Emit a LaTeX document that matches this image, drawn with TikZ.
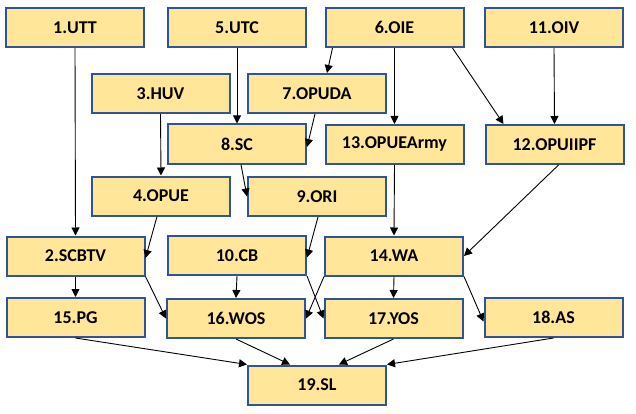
\documentclass[tikz,border=0pt]{standalone}
\usepackage{fontspec}
\setmainfont{Carlito}
\usepackage{tikz}
\usetikzlibrary{arrows.meta}
\definecolor{boxfill}{HTML}{FFE699}
\definecolor{boxline}{HTML}{2F5597}

\begin{document}
\begin{tikzpicture}[> = {Triangle[length=8pt,width=8pt]}, x = 1pt, y = -1pt,
    box/.style = {draw = boxline, fill = boxfill, line width = 2pt, minimum width = 138pt,
      minimum height = 39pt, inner sep = 0pt, font = \bfseries\fontsize{18}{20}\selectfont},
    link/.style = {->, line width = 0.9pt}]
  \useasboundingbox (0,0) rectangle (636,414);
  \node[box] (utt)     at (75,27.5)    {1.UTT};
  \node[box] (utc)     at (237,27.5)   {5.UTC};
  \node[box] (oie)     at (394.5,27.5) {6.OIE};
  \node[box] (oiv)     at (554,27.5)   {11.OIV};
  \node[box] (huv)     at (160.5,93.5) {3.HUV};
  \node[box] (opuda)   at (317,93.5)   {7.OPUDA};
  \node[box] (sc)      at (237,144)    {8.SC};
  \node[box] (opuea)   at (394.5,144.5){13.OPUEArmy};
  \node[box] (opuiipf) at (554.5,144.5){12.OPUIIPF};
  \node[box] (opue)    at (161,196)    {4.OPUE};
  \node[box] (ori)     at (317,196.5)  {9.ORI};
  \node[box] (scbtv)   at (75.5,256)   {2.SCBTV};
  \node[box] (cb)      at (237,255.5)  {10.CB};
  \node[box] (wa)      at (394,256)    {14.WA};
  \node[box] (pg)      at (75.5,317.5) {15.PG};
  \node[box] (wos)     at (236,318.5)  {16.WOS};
  \node[box] (yos)     at (393.5,318.5){17.YOS};
  \node[box] (as)      at (553.5,317.5){18.AS};
  \node[box] (sl)      at (317,385)    {19.SL};
  \draw[link] (utt.south) -- (scbtv.north);
  \draw[link] (utc.south) -- (sc.north);
  \draw[link] ([xshift=8pt]oie.south west) -- ([xshift=10pt]opuda.north);
  \draw[link] (oie.south) -- (opuea.north);
  \draw[link] ([xshift=-12pt]oie.south east) -- ([xshift=19pt]opuiipf.north west);
  \draw[link] (oiv.south) -- (opuiipf.north);
  \draw[link] ([xshift=-2pt]opuda.south) -- ([yshift=-3pt]sc.east);
  \draw[link] (huv.south) -- (opue.north);
  \draw[link] ([xshift=4pt]sc.south) -- (ori.west);
  \draw[link] ([xshift=-4pt]opue.south) -- ([yshift=-2pt]scbtv.east);
  \draw[link] ([xshift=1pt]ori.south) -- ([yshift=-2pt]cb.east);
  \draw[link] (opuea.south) -- (wa.north);
  \draw[link] ([xshift=4pt]opuiipf.south) -- (wa.east);
  \draw[link] (scbtv.south) -- (pg.north);
  \draw[link] (scbtv.south east) -- (wos.west);
  \draw[link] (cb.south) -- (wos.north);
  \draw[link] (cb.south east) -- (yos.west);
  \draw[link] (wa.south west) -- (wos.east);
  \draw[link] (wa.south) -- (yos.north);
  \draw[link] (wa.south east) -- ([yshift=-4pt]as.west);
  \draw[link] (pg.south) -- (sl.north west);
  \draw[link] (wos.south) -- ([xshift=-27pt]sl.north);
  \draw[link] (yos.south) -- ([xshift=22pt]sl.north);
  \draw[link] (as.south) -- (sl.north east);
\end{tikzpicture}
\end{document}
